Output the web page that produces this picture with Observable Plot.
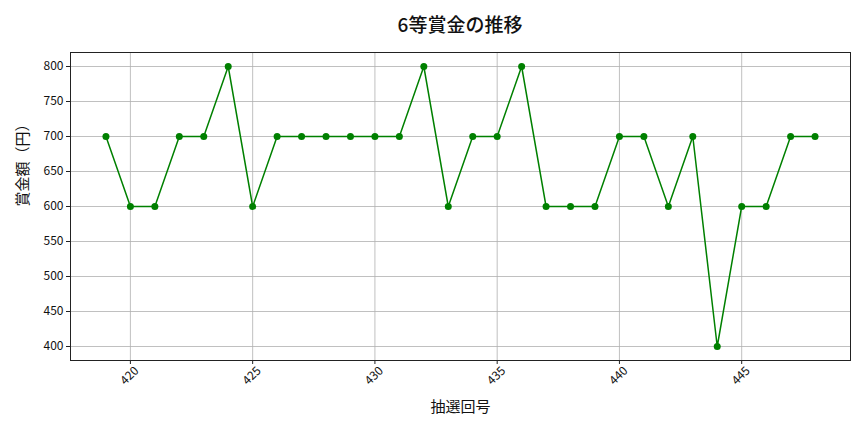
<!DOCTYPE html>
<html><head><meta charset="utf-8">
<script src="https://cdn.jsdelivr.net/npm/d3@7"></script>
<script src="https://cdn.jsdelivr.net/npm/@observablehq/plot@0.6"></script>
<style>
body{margin:0;background:#fff;font-family:"Noto Sans CJK JP","Noto Sans",sans-serif;}
#wrap{width:864px;height:432px;}
#title{height:40px;line-height:48px;text-align:center;font-size:19px;font-weight:500;color:#111;padding-left:56px;box-sizing:border-box;}
</style></head><body>
<div id="wrap"><div id="title">6等賞金の推移</div><div id="chart"></div></div>
<script>
const draws = [419,420,421,422,423,424,425,426,427,428,429,430,431,432,433,434,435,436,437,438,439,440,441,442,443,444,445,446,447,448];
const prizes = [700,600,600,700,700,800,600,700,700,700,700,700,700,800,600,700,700,800,600,600,600,700,700,600,700,400,600,600,700,700];
const xTicks = [420,425,430,435,440,445];
const yTicks = [400,450,500,550,600,650,700,750,800];
const xLabel = "抽選回号";
const yLabel = "賞金額（円）";

const data = draws.map((d,i)=>({draw:d, prize:prizes[i]}));
const font = '"Noto Sans CJK JP","Noto Sans",sans-serif';

const chart = Plot.plot({
  width:864, height:392,
  marginLeft:70, marginRight:14, marginTop:12, marginBottom:72,
  style:{fontFamily:font, fontSize:"12px", color:"#111", background:"#fff"},
  x:{domain:[417.55,449.45]},
  y:{domain:[380,820]},
  marks:[
    Plot.gridX(xTicks,{stroke:"#b0b0b0", strokeOpacity:1, strokeWidth:0.8}),
    Plot.gridY(yTicks,{stroke:"#b0b0b0", strokeOpacity:1, strokeWidth:0.8}),
    Plot.axisY(yTicks,{tickSize:4, tickPadding:3, fontSize:12, label:null, stroke:"#222"}),
    Plot.axisX(xTicks,{tickSize:4, tickFormat:()=>"", label:null, stroke:"#222"}),
    Plot.text(xTicks,{x:d=>d, text:d=>String(d), frameAnchor:"bottom", dx:2, dy:18, rotate:-45, fontSize:12, fill:"#111"}),
    Plot.text([yLabel],{text:d=>d, frameAnchor:"left", dx:-47, rotate:-90, fontSize:15, fill:"#111"}),
    Plot.text([xLabel],{text:d=>d, frameAnchor:"bottom", dy:51, fontSize:15, fill:"#111"}),
    Plot.line(data,{x:"draw", y:"prize", stroke:"green", strokeWidth:1.5}),
    Plot.dot(data,{x:"draw", y:"prize", fill:"green", r:3.5, stroke:"none"}),
    Plot.frame({stroke:"#222", strokeWidth:1})
  ]
});
document.getElementById("chart").appendChild(chart);
</script>
</body></html>
